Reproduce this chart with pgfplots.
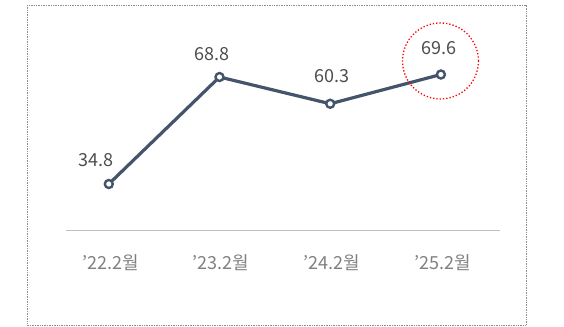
\documentclass[border=0pt]{standalone}
\usepackage{fontspec}
\setmainfont{Noto Sans CJK KR}
\usepackage{pgfplots}
\usepackage{pgfplotstable}
\pgfplotsset{compat=1.18}
\definecolor{lineblue}{HTML}{44546A}
\definecolor{valgray}{HTML}{4D4D4D}
\definecolor{tickgray}{HTML}{808080}
\pgfplotstableread{
x y dx dy
0 34.8 -12.6 24
1 68.8 -8 23
2 60.3 1.4 28
3 69.6 -1.5 26
}\datatable
\begin{document}
\begin{tikzpicture}
\begin{axis}[
  scale only axis,
  width=434.3pt, height=225.6pt,
  xmin=-0.389, xmax=3.534,
  ymin=20, ymax=91.68,
  axis x line*=bottom,
  axis y line=none,
  x axis line style={draw=black!25, line width=1.4pt},
  xtick={0,1,2,3},
  xticklabels={’22.2월,’23.2월,’24.2월,’25.2월},
  major tick length=0pt,
  xticklabel style={anchor=center, yshift=-32pt, xshift=1.5pt, font=\fontsize{18}{21}\selectfont, text=tickgray},
  clip=false,
]
\addplot[lineblue, line width=3.2pt, mark=*, mark size=4pt,
  mark options={fill=white, draw=lineblue, line width=2.4pt},
  nodes near coords,
  point meta=explicit symbolic,
  visualization depends on={\thisrow{dx} \as \dx},
  visualization depends on={\thisrow{dy} \as \dy},
  every node near coord/.append style={anchor=center, xshift=\dx pt, yshift=\dy pt, font=\fontsize{18}{21}\selectfont, text=valgray},
] table[x=x, y=y, meta=y] {\datatable};
\draw[red, dotted, line width=1.3pt] (axis cs:2.996,73.9) circle [radius=38pt];
\draw[densely dotted, black!45, line width=0.7pt] (axis cs:-0.739,91.68) rectangle (axis cs:3.769,-10.0);
\path (axis cs:-0.983,93.27) rectangle (axis cs:4.112,-10.32);
\end{axis}
\end{tikzpicture}
\end{document}
